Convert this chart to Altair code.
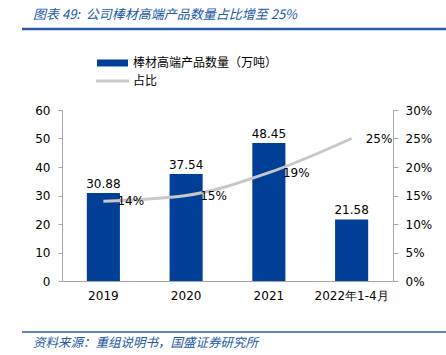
import altair as alt
import pandas as pd

years = ["2019", "2020", "2021", "2022年1-4月"]
amounts = [30.88, 37.54, 48.45, 21.58]
shares = [0.14, 0.15, 0.19, 0.25]
share_labels = ["14%", "15%", "19%", "25%"]
left_ticks = [0, 10, 20, 30, 40, 50, 60]
right_ticks = [0, 0.05, 0.10, 0.15, 0.20, 0.25, 0.30]

title_text = "图表 49:\u00a0\u00a0公司棒材高端产品数量占比增至 25%"
source_text = "资料来源：重组说明书，国盛证券研究所"
legend_bar = "棒材高端产品数量（万吨）"
legend_line = "占比"

df = pd.DataFrame({
    "year": years,
    "amount": amounts,
    "amount_label": [f"{v:.2f}" for v in amounts],
    "share": shares,
    "share_label": share_labels,
})

BLUE = "#003f98"
GRAY = "#c8c8c8"
AXIS = "#a6a6a6"
TITLE_BLUE = "#2257a5"
NUMFONT = "DejaVu Sans"
CJK = "Noto Sans CJK SC"

PL, PT = 62, 110  # plot origin in page pixels

xscale = alt.Scale(paddingInner=0.6, paddingOuter=0.3)
xaxis = alt.Axis(labelAngle=0, labelFont=NUMFONT, labelFontSize=12,
                 labelColor="#000", domainColor=AXIS, domainWidth=1,
                 ticks=False, labelPadding=9, labelLimit=200, title=None)
xenc = alt.X("year:N", sort=years, title=None, scale=xscale, axis=xaxis)

lscale = alt.Scale(domain=[0, 60], nice=False)
rscale = alt.Scale(domain=[0, 0.30], nice=False)
laxis = alt.Axis(values=left_ticks, labelFont=NUMFONT, labelFontSize=12,
                 labelColor="#000", domainColor=AXIS, tickColor=AXIS, tickSize=4,
                 labelPadding=8, grid=False, labelOverlap=False, title=None)
raxis = alt.Axis(orient="right", format=".0%", values=right_ticks,
                 labelFont=NUMFONT, labelFontSize=12, labelColor="#000",
                 domainColor=AXIS, tickColor=AXIS, tickSize=5,
                 labelPadding=7, grid=False, labelOverlap=False, title=None)
ly = alt.Y("amount:Q", title=None, scale=lscale, axis=laxis)
ry = alt.Y("share:Q", title=None, scale=rscale, axis=raxis)

base = alt.Chart(df)

bars = base.mark_bar(color=BLUE).encode(x=xenc, y=ly)
bar_text = base.mark_text(baseline="alphabetic", dy=-5, font=NUMFONT, fontSize=12,
                          color="#000").encode(x=xenc, y=ly, text="amount_label:N")
left = alt.layer(bars, bar_text)

line = base.mark_line(interpolate="monotone", color=GRAY, strokeWidth=3).encode(x=xenc, y=ry)
line_text = base.mark_text(align="left", baseline="middle", dx=14, font=NUMFONT,
                           fontSize=12, color="#000").encode(x=xenc, y=ry, text="share_label:N")
right = alt.layer(line, line_text)

one = pd.DataFrame({"k": [0]})


def rule(x1, x2, y, color, w):
    return alt.Chart(one).mark_rule(color=color, strokeWidth=w).encode(
        x=alt.value(x1 - PL), x2=alt.value(x2 - PL), y=alt.value(y - PT))


def text(t, x, y, size, color, italic=False, font=CJK):
    props = dict(align="left", baseline="middle", fontSize=size, color=color, font=font)
    if italic:
        props["fontStyle"] = "italic"
    return alt.Chart(pd.DataFrame({"t": [t]})).mark_text(**props).encode(
        x=alt.value(x - PL), y=alt.value(y - PT), text="t:N")


decor = [
    text(title_text, 33, 15, 13, TITLE_BLUE, italic=True),
    rule(22, 446, 29, "#2a5ca8", 2.5),
    rule(22, 446, 332, "#2a5ca8", 1.5),
    text(source_text, 33, 343, 12.5, TITLE_BLUE, italic=True),
    rule(97, 128, 63, BLUE, 7),
    rule(96, 129, 81, GRAY, 3),
    text(legend_bar, 133, 63, 12, "#000"),
    text(legend_line, 133, 81, 12, "#000"),
]

chart = alt.layer(left, right, *decor).resolve_scale(y="independent").properties(
    width=331, height=171,
    autosize=alt.AutoSizeParams(type="none"),
    padding={"left": PL, "top": PT, "right": 446 - PL - 331, "bottom": 355 - PT - 171},
    background="white",
).configure_view(stroke=None)

chart.save("out.html", embed_options={"renderer": "svg", "actions": False})
